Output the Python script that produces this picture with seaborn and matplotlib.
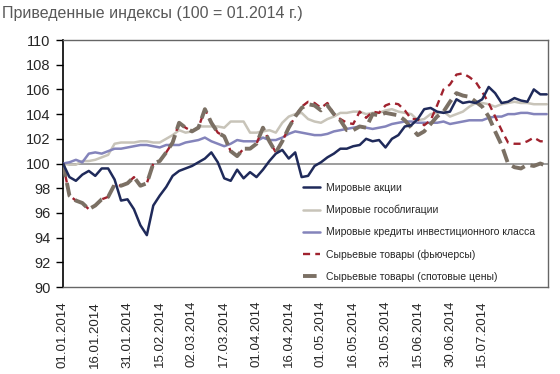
import numpy as np
import pandas as pd
import matplotlib
matplotlib.use("Agg")
import matplotlib.pyplot as plt
import seaborn as sns

# --- data (one point every 3 days from 01.01.2014) ---
dates = pd.date_range("2014-01-01", periods=76, freq="3D")

equities = [100.0, 98.9, 98.6, 99.1, 99.4, 99.0, 99.6, 99.6, 98.7, 97.0,
            97.1, 96.3, 95.0, 94.2, 96.6, 97.4, 98.1, 99.0, 99.4, 99.6,
            99.8, 100.1, 100.4, 100.9, 100.1, 98.8, 98.6, 99.5, 98.8, 99.3,
            98.9, 99.5, 100.2, 100.8, 101.1, 100.4, 100.9, 98.9, 99.0, 99.8,
            100.1, 100.5, 100.8, 101.2, 101.2, 101.4, 101.5, 102.0, 101.8, 101.9,
            101.3, 102.0, 102.3, 103.0, 103.1, 103.6, 104.4, 104.5, 104.2, 104.1,
            104.2, 105.2, 104.9, 105.0, 104.9, 105.2, 106.2, 105.7, 104.9, 105.0,
            105.3, 105.1, 105.0, 106.0, 105.6, 105.6]

govbonds = [100.0, 99.9, 99.9, 100.2, 100.2, 100.3, 100.5, 100.7, 101.6, 101.7,
            101.7, 101.7, 101.8, 101.8, 101.7, 101.7, 102.0, 102.3, 102.7, 102.5,
            102.6, 103.0, 103.0, 103.0, 103.0, 102.9, 103.4, 103.4, 103.4, 102.5,
            102.5, 102.6, 102.7, 102.5, 103.3, 103.8, 104.0, 104.1, 103.6, 103.4,
            103.3, 103.6, 103.8, 104.1, 104.1, 104.2, 104.2, 104.0, 104.1, 104.1,
            104.3, 104.4, 104.2, 104.1, 104.0, 103.5, 103.6, 104.0, 104.1, 104.2,
            103.8, 104.0, 104.2, 104.6, 104.9, 104.9, 104.8, 104.6, 104.8, 104.9,
            105.0, 104.9, 104.9, 104.8, 104.8, 104.8]

credits = [100.0, 100.1, 100.3, 100.1, 100.8, 100.9, 100.8, 101.0, 101.2, 101.2,
           101.3, 101.4, 101.5, 101.5, 101.4, 101.3, 101.5, 101.5, 101.5, 101.7,
           101.8, 101.9, 102.1, 101.8, 101.6, 101.4, 101.6, 101.9, 101.8, 101.8,
           101.8, 102.1, 101.9, 101.9, 102.1, 102.4, 102.6, 102.5, 102.4, 102.3,
           102.3, 102.4, 102.6, 102.7, 102.8, 102.9, 103.0, 102.9, 102.8, 102.9,
           103.0, 103.2, 103.3, 103.4, 103.4, 103.3, 103.3, 103.3, 103.3, 103.4,
           103.2, 103.3, 103.4, 103.5, 103.5, 103.5, 103.7, 103.8, 103.8, 104.0,
           104.0, 104.1, 104.1, 104.0, 104.0, 104.0]

futures = [100.0, 97.4, 97.0, 96.8, 96.3, 96.6, 97.1, 97.3, 98.3, 98.2,
           98.4, 98.9, 98.2, 98.4, 100.0, 100.2, 100.9, 101.7, 103.3, 102.9,
           102.6, 102.9, 104.4, 103.3, 102.5, 102.2, 101.0, 100.6, 101.2, 101.2,
           101.6, 102.9, 101.8, 100.9, 101.8, 102.9, 103.8, 104.6, 105.0, 104.9,
           104.5, 104.9, 104.0, 103.6, 103.3, 103.2, 104.2, 103.7, 104.2, 104.1,
           104.7, 104.9, 104.8, 104.3, 103.6, 103.6, 103.1, 103.5, 104.7, 106.0,
           106.4, 107.2, 107.3, 107.0, 106.6, 105.8, 104.9, 103.8, 102.7, 101.7,
           101.6, 101.6, 101.8, 102.1, 101.8, 101.8]

spot = [100.0, 97.4, 97.0, 96.8, 96.3, 96.6, 97.1, 97.3, 98.3, 98.2,
        98.4, 98.9, 98.2, 98.4, 100.0, 100.2, 100.9, 101.7, 103.3, 102.9,
        102.6, 102.9, 104.4, 103.3, 102.5, 102.2, 101.0, 100.6, 101.2, 101.2,
        101.6, 102.9, 101.8, 100.9, 101.8, 102.9, 103.8, 104.5, 104.8, 104.7,
        104.3, 104.7, 104.0, 103.5, 102.7, 102.7, 103.0, 102.9, 104.0, 103.9,
        104.1, 104.0, 103.9, 103.5, 102.9, 102.3, 102.6, 103.2, 103.8, 104.2,
        105.0, 105.7, 105.5, 105.4, 105.0, 104.6, 103.8, 102.6, 101.5, 100.0,
        99.7, 99.6, 99.9, 99.8, 100.0, 99.8]

labels = ["Мировые акции",
          "Мировые гособлигации",
          "Мировые кредиты инвестиционного класса",
          "Сырьевые товары (фьючерсы)",
          "Сырьевые товары (спотовые цены)"]

tick_dates = ["01.01.2014", "16.01.2014", "31.01.2014", "15.02.2014", "02.03.2014",
              "17.03.2014", "01.04.2014", "16.04.2014", "01.05.2014", "16.05.2014",
              "31.05.2014", "15.06.2014", "30.06.2014", "15.07.2014"]

title = "Приведенные индексы (100 = 01.2014 г.)"

# --- style ---
sns.set_style("white")
plt.rcParams['font.family'] = ['Liberation Sans', 'DejaVu Sans']

fig = plt.figure(figsize=(5.6, 3.74), dpi=100)
ax = fig.add_axes([0.1125, 0.2326, 0.8661, 0.6604])

ax.axhline(100, color='#8c8c8c', lw=1.2, zorder=1)

sns.lineplot(x=dates, y=govbonds, ax=ax, color='#c8c4b9', lw=1.8, label=labels[1], zorder=2)
sns.lineplot(x=dates, y=credits, ax=ax, color='#8484bb', lw=1.8, label=labels[2], zorder=3)
sns.lineplot(x=dates, y=futures, ax=ax, color='#a0222e', lw=1.7, label=labels[3], zorder=4)
sns.lineplot(x=dates, y=spot, ax=ax, color='#7b7064', lw=2.8, label=labels[4], zorder=5)
sns.lineplot(x=dates, y=equities, ax=ax, color='#1f2a5a', lw=1.8, label=labels[0], zorder=6)

ax.lines[3].set_dashes((3, 2.2))
ax.lines[4].set_dashes((3.5, 1.6))

ax.set_ylim(90, 110)
ax.set_yticks(range(90, 111, 2))
ax.set_xlim(pd.Timestamp("2014-01-01"), pd.Timestamp("2014-01-01") + pd.Timedelta(days=225.6))
ax.set_xticks(pd.to_datetime(tick_dates, format="%d.%m.%Y"))
ax.set_xticklabels(tick_dates, rotation=90)
ax.set_xlabel("")
ax.set_ylabel("")

ax.tick_params(axis='y', direction='out', length=5, width=1, color='black',
               labelsize=10.5, pad=4, left=True)
ax.tick_params(axis='x', length=0, labelsize=9.5, pad=10)

ax.spines['left'].set_color('black')
ax.spines['left'].set_linewidth(1.2)
for s in ['top', 'right', 'bottom']:
    ax.spines[s].set_color('#666666')
    ax.spines[s].set_linewidth(1.0)

# legend in the same order as the reference
handles, leg_labels = ax.get_legend_handles_labels()
order = [leg_labels.index(l) for l in labels]
ax.legend([handles[i] for i in order], labels, loc='lower left',
          bbox_to_anchor=(0.485, 0.0), frameon=False, fontsize=7.5,
          handlelength=1.6, handletextpad=0.6, labelspacing=1.15,
          borderaxespad=0.1)

fig.text(0.004, 0.965, title, fontsize=11.5, color='#595959', ha='left', va='center')

plt.savefig("out.png", dpi=100)
